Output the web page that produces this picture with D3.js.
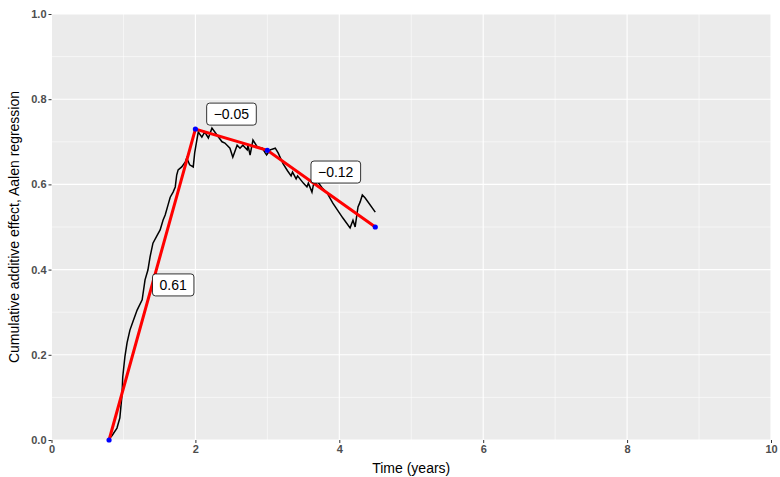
<!DOCTYPE html>
<meta charset="utf-8" />
<head>
  <script src="https://cdn.jsdelivr.net/npm/d3@7"></script>
  <style>
    body { margin: 0; background: #fff; }
    text { font-family: "Liberation Sans", Arial, sans-serif; }
    .tick text { font-weight: bold; fill: #4d4d4d; font-size: 11px; }
  </style>
</head>
<body>
  <svg id="chart" width="780" height="477"></svg>
</body>
<script>
  // cumulative additive effect (Aalen)
  const aalenTime = [0.785, 0.84, 0.91, 0.95, 0.98, 0.99, 1.02, 1.05, 1.09, 1.13, 1.19, 1.26, 1.3, 1.34, 1.37, 1.41, 1.47, 1.51, 1.55, 1.58, 1.62, 1.65, 1.69, 1.72, 1.74, 1.76, 1.81, 1.86, 1.88, 1.92, 1.97, 1.99, 2.02, 2.04, 2.09, 2.13, 2.18, 2.23, 2.3, 2.37, 2.41, 2.48, 2.52, 2.58, 2.62, 2.66, 2.72, 2.73, 2.76, 2.8, 2.86, 2.93, 2.97, 2.99, 3.04, 3.11, 3.15, 3.22, 3.28, 3.33, 3.35, 3.4, 3.42, 3.5, 3.55, 3.57, 3.62, 3.64, 3.7, 3.76, 3.83, 3.91, 4.05, 4.15, 4.19, 4.22, 4.26, 4.29, 4.32, 4.36, 4.5];
  const aalenValue = [0, 0.01, 0.028, 0.052, 0.106, 0.148, 0.195, 0.228, 0.258, 0.277, 0.305, 0.329, 0.376, 0.399, 0.43, 0.462, 0.481, 0.493, 0.516, 0.528, 0.552, 0.57, 0.582, 0.594, 0.622, 0.634, 0.641, 0.653, 0.662, 0.646, 0.641, 0.674, 0.704, 0.723, 0.711, 0.723, 0.709, 0.732, 0.716, 0.7, 0.697, 0.685, 0.664, 0.692, 0.685, 0.692, 0.681, 0.692, 0.669, 0.704, 0.688, 0.685, 0.674, 0.669, 0.681, 0.685, 0.674, 0.648, 0.632, 0.62, 0.629, 0.613, 0.62, 0.603, 0.594, 0.603, 0.582, 0.599, 0.606, 0.592, 0.58, 0.556, 0.521, 0.498, 0.516, 0.5, 0.547, 0.559, 0.575, 0.568, 0.535];

  // piecewise linear fit
  const knotTime = [0.8, 2, 3, 4.5];
  const knotValue = [0, 0.73, 0.68, 0.5];

  // slope labels
  const slopeText = ["0.61", "\u22120.05", "\u22120.12"];
  const slopeTime = [1.69, 2.5, 3.95];
  const slopeValue = [0.364, 0.765, 0.629];

  const xTicks = [0, 2, 4, 6, 8, 10];
  const yTicks = [0, 0.2, 0.4, 0.6, 0.8, 1.0];

  const svg = d3.select("#chart");
  const margin = { top: 14, right: 9, bottom: 37, left: 51.5 };
  const width = 780, height = 477;

  const x = d3.scaleLinear().domain([0, 10]).range([margin.left, width - margin.right]);
  const y = d3.scaleLinear().domain([0, 1]).range([height - margin.bottom, margin.top]);

  // panel
  svg.append("rect")
    .attr("x", x(0)).attr("y", y(1))
    .attr("width", x(10) - x(0)).attr("height", y(0) - y(1))
    .attr("fill", "#ebebeb");

  const grid = svg.append("g");
  d3.range(1, 10, 2).forEach((v) => {
    grid.append("line").attr("x1", x(v)).attr("x2", x(v)).attr("y1", y(0)).attr("y2", y(1))
      .attr("stroke", "#fff").attr("stroke-width", 0.55);
  });
  [0.1, 0.3, 0.5, 0.7, 0.9].forEach((v) => {
    grid.append("line").attr("y1", y(v)).attr("y2", y(v)).attr("x1", x(0)).attr("x2", x(10))
      .attr("stroke", "#fff").attr("stroke-width", 0.55);
  });
  xTicks.forEach((v) => {
    grid.append("line").attr("x1", x(v)).attr("x2", x(v)).attr("y1", y(0)).attr("y2", y(1))
      .attr("stroke", "#fff").attr("stroke-width", 1.1);
  });
  yTicks.forEach((v) => {
    grid.append("line").attr("y1", y(v)).attr("y2", y(v)).attr("x1", x(0)).attr("x2", x(10))
      .attr("stroke", "#fff").attr("stroke-width", 1.1);
  });

  // axes
  const xAxis = svg.append("g")
    .attr("transform", `translate(0,${y(0)})`)
    .call(d3.axisBottom(x).tickValues(xTicks).tickSize(3).tickPadding(2).tickFormat(d3.format("d")));
  const yAxis = svg.append("g")
    .attr("transform", `translate(${x(0)},0)`)
    .call(d3.axisLeft(y).tickValues(yTicks).tickSize(3).tickPadding(2).tickFormat(d3.format(".1f")));
  [xAxis, yAxis].forEach((a) => a.select(".domain").remove());
  svg.selectAll(".tick line").attr("stroke", "#333").attr("stroke-width", 1);

  svg.append("text")
    .attr("x", (x(0) + x(10)) / 2).attr("y", 473)
    .attr("text-anchor", "middle").attr("font-size", 14).text("Time (years)");
  svg.append("text")
    .attr("transform", `translate(19,${(y(0) + y(1)) / 2}) rotate(-90)`)
    .attr("text-anchor", "middle").attr("font-size", 14)
    .text("Cumulative additive effect, Aalen regression");

  // black cumulative curve
  const aalen = aalenTime.map((t, i) => ({ t, v: aalenValue[i] }));
  const line = d3.line().x((d) => x(d.t)).y((d) => y(d.v));
  svg.append("path")
    .attr("d", line(aalen))
    .attr("fill", "none").attr("stroke", "#000").attr("stroke-width", 1.5);

  // red fit
  const knots = knotTime.map((t, i) => ({ t, v: knotValue[i] }));
  svg.append("path")
    .attr("d", line(knots))
    .attr("fill", "none").attr("stroke", "#ff0000").attr("stroke-width", 3);
  svg.selectAll(".knot").data(knots).enter().append("circle")
    .attr("cx", (d) => x(d.t)).attr("cy", (d) => y(d.v)).attr("r", 2.6)
    .attr("fill", "#0000ff");

  // labels
  slopeText.forEach((s, i) => {
    const g = svg.append("g").attr("transform", `translate(${x(slopeTime[i])},${y(slopeValue[i])})`);
    const t = g.append("text").attr("text-anchor", "middle").attr("dy", "0.35em")
      .attr("font-size", 14).text(s);
    const bb = t.node().getBBox();
    g.insert("rect", "text")
      .attr("x", bb.x - 7).attr("y", -11)
      .attr("width", bb.width + 14).attr("height", 22)
      .attr("rx", 3).attr("fill", "#fff").attr("stroke", "#000").attr("stroke-width", 0.8);
  });
</script>
